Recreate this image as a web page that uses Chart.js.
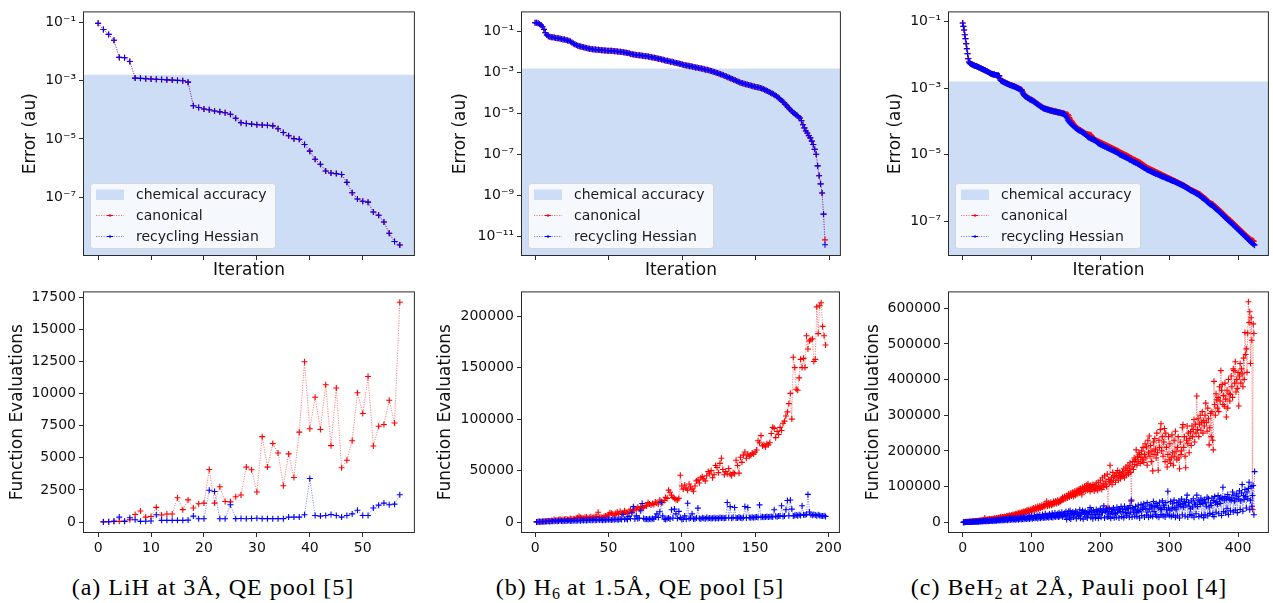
<!DOCTYPE html>
<html lang="en">
<head>
<meta charset="UTF-8">
<title>Error and function evaluations per iteration</title>
<script src="https://cdn.jsdelivr.net/npm/chart.js"></script>
<style>
  body { margin: 0; background: #fff; width: 1273px; height: 603px; overflow: hidden; position: relative; }
  canvas { position: absolute; }
  .cap { position: absolute; top: 575px; font-family: "Liberation Serif", serif; font-size: 24px; line-height: 24px;
         letter-spacing: 1px; color: #000; white-space: nowrap; transform: translateX(-50%); }
  .cap sub { font-size: 16px; vertical-align: -4px; line-height: 0; letter-spacing: 0; }
</style>
</head>
<body>
<canvas id="errA"></canvas>
<canvas id="errB"></canvas>
<canvas id="errC"></canvas>
<canvas id="evalA"></canvas>
<canvas id="evalB"></canvas>
<canvas id="evalC"></canvas>
<div class="cap" style="left:213px">(a) LiH at 3Å, QE pool [5]</div>
<div class="cap" style="left:640px">(b) H<sub>6</sub> at 1.5Å, QE pool [5]</div>
<div class="cap" style="left:1069px">(c) BeH<sub>2</sub> at 2Å, Pauli pool [4]</div>
<script>
// ---- data ----
// error curves: log10(error in au), iteration 0..N
const errA = [-1.03,-1.24,-1.41,-1.61,-2.20,-2.21,-2.34,-2.91,-2.92,-2.93,
  -2.94,-2.95,-2.96,-2.97,-2.98,-2.99,-3.00,-3.05,-3.86,-3.92,
  -3.97,-4.00,-4.04,-4.07,-4.10,-4.15,-4.29,-4.44,-4.47,-4.49,
  -4.51,-4.52,-4.53,-4.55,-4.65,-4.78,-4.89,-4.99,-5.01,-5.19,
  -5.42,-5.70,-5.87,-6.10,-6.17,-6.19,-6.22,-6.49,-6.85,-7.06,
  -7.14,-7.17,-7.51,-7.62,-7.85,-8.24,-8.52,-8.64];

const errBShared = [-0.55,-0.56,-0.58,-0.62,-0.67,-0.75,-0.88,-1.04,-1.15,-1.21,
  -1.24,-1.26,-1.27,-1.28,-1.30,-1.31,-1.32,-1.34,-1.35,-1.37,
  -1.38,-1.40,-1.42,-1.44,-1.47,-1.52,-1.57,-1.61,-1.65,-1.68,
  -1.70,-1.72,-1.74,-1.76,-1.78,-1.79,-1.81,-1.83,-1.84,-1.85,
  -1.86,-1.87,-1.88,-1.88,-1.89,-1.90,-1.90,-1.91,-1.91,-1.92,
  -1.92,-1.93,-1.93,-1.94,-1.95,-1.95,-1.96,-1.97,-1.98,-1.99,
  -2.00,-2.01,-2.02,-2.03,-2.05,-2.08,-2.10,-2.11,-2.12,-2.13,
  -2.14,-2.15,-2.16,-2.17,-2.18,-2.19,-2.20,-2.21,-2.23,-2.24,
  -2.25,-2.27,-2.28,-2.30,-2.32,-2.33,-2.35,-2.37,-2.39,-2.41,
  -2.42,-2.44,-2.46,-2.47,-2.49,-2.51,-2.52,-2.54,-2.56,-2.58,
  -2.60,-2.62,-2.63,-2.65,-2.66,-2.68,-2.69,-2.71,-2.72,-2.74,
  -2.75,-2.77,-2.78,-2.80,-2.81,-2.83,-2.85,-2.86,-2.88,-2.90,
  -2.92,-2.95,-2.97,-3.00,-3.02,-3.05,-3.07,-3.10,-3.13,-3.16,
  -3.19,-3.22,-3.25,-3.28,-3.31,-3.34,-3.37,-3.40,-3.44,-3.47,
  -3.50,-3.52,-3.54,-3.56,-3.58,-3.60,-3.62,-3.64,-3.66,-3.68,
  -3.70,-3.71,-3.73,-3.75,-3.77,-3.80,-3.83,-3.87,-3.90,-3.94,
  -3.98,-4.02,-4.06,-4.10,-4.15,-4.20,-4.26,-4.33,-4.40,-4.46,
  -4.55,-4.62,-4.70,-4.78,-4.86,-4.92,-4.98,-5.05,-5.10,-5.15,
  -5.22,-5.35,-5.55,-5.70,-5.85,-5.95,-6.08,-6.19,-6.35,-6.51,
  -6.75,-6.99,-7.56,-8.04,-8.44,-8.89,-9.92];
const errBCanonLast = -11.18;
const errBRecycLast = -11.42;

const errCCanon = [-1.04,-1.14,-1.25,-1.39,-1.51,-1.66,-1.81,-1.96,-2.11,-2.21,
  -2.24,-2.26,-2.27,-2.28,-2.29,-2.30,-2.31,-2.32,-2.33,-2.33,
  -2.34,-2.35,-2.36,-2.37,-2.38,-2.39,-2.40,-2.41,-2.42,-2.43,
  -2.44,-2.45,-2.46,-2.47,-2.48,-2.49,-2.50,-2.51,-2.52,-2.54,
  -2.55,-2.56,-2.57,-2.58,-2.58,-2.59,-2.59,-2.60,-2.60,-2.61,
  -2.61,-2.62,-2.62,-2.63,-2.70,-2.75,-2.77,-2.78,-2.79,-2.80,
  -2.81,-2.82,-2.83,-2.84,-2.85,-2.86,-2.87,-2.88,-2.89,-2.90,
  -2.90,-2.91,-2.92,-2.93,-2.93,-2.94,-2.95,-2.96,-2.97,-2.98,
  -2.99,-3.00,-3.01,-3.02,-3.03,-3.04,-3.05,-3.10,-3.15,-3.19,
  -3.22,-3.24,-3.25,-3.26,-3.28,-3.29,-3.30,-3.32,-3.33,-3.34,
  -3.35,-3.36,-3.37,-3.39,-3.40,-3.42,-3.43,-3.45,-3.46,-3.48,
  -3.49,-3.51,-3.52,-3.54,-3.55,-3.56,-3.58,-3.59,-3.60,-3.61,
  -3.62,-3.62,-3.63,-3.64,-3.64,-3.65,-3.66,-3.66,-3.67,-3.67,
  -3.68,-3.68,-3.69,-3.69,-3.70,-3.70,-3.71,-3.71,-3.72,-3.72,
  -3.73,-3.73,-3.74,-3.74,-3.75,-3.75,-3.76,-3.76,-3.77,-3.78,
  -3.78,-3.79,-3.79,-3.80,-3.83,-3.88,-3.93,-3.97,-3.99,-4.02,
  -4.05,-4.08,-4.11,-4.14,-4.16,-4.18,-4.20,-4.21,-4.23,-4.24,
  -4.25,-4.26,-4.28,-4.29,-4.30,-4.32,-4.33,-4.34,-4.36,-4.37,
  -4.38,-4.38,-4.39,-4.39,-4.40,-4.40,-4.41,-4.42,-4.45,-4.48,
  -4.51,-4.53,-4.55,-4.56,-4.57,-4.58,-4.59,-4.60,-4.61,-4.62,
  -4.63,-4.64,-4.65,-4.66,-4.67,-4.68,-4.69,-4.70,-4.71,-4.72,
  -4.73,-4.74,-4.75,-4.76,-4.77,-4.78,-4.79,-4.80,-4.81,-4.82,
  -4.83,-4.84,-4.85,-4.86,-4.87,-4.88,-4.89,-4.90,-4.92,-4.93,
  -4.94,-4.95,-4.96,-4.97,-4.98,-4.99,-5.00,-5.01,-5.02,-5.03,
  -5.04,-5.05,-5.07,-5.08,-5.09,-5.10,-5.11,-5.13,-5.14,-5.15,
  -5.16,-5.17,-5.18,-5.19,-5.20,-5.21,-5.22,-5.23,-5.24,-5.26,
  -5.27,-5.29,-5.30,-5.32,-5.33,-5.35,-5.36,-5.38,-5.39,-5.40,
  -5.41,-5.42,-5.43,-5.44,-5.45,-5.46,-5.47,-5.48,-5.49,-5.50,
  -5.51,-5.52,-5.53,-5.54,-5.55,-5.56,-5.57,-5.58,-5.59,-5.60,
  -5.61,-5.62,-5.63,-5.64,-5.65,-5.66,-5.67,-5.68,-5.69,-5.70,
  -5.71,-5.72,-5.73,-5.74,-5.75,-5.76,-5.77,-5.78,-5.79,-5.80,
  -5.81,-5.82,-5.83,-5.84,-5.85,-5.86,-5.87,-5.88,-5.89,-5.90,
  -5.91,-5.92,-5.93,-5.95,-5.96,-5.97,-5.98,-6.00,-6.01,-6.02,
  -6.04,-6.05,-6.06,-6.07,-6.08,-6.09,-6.10,-6.11,-6.12,-6.13,
  -6.14,-6.15,-6.16,-6.17,-6.18,-6.19,-6.21,-6.23,-6.25,-6.27,
  -6.28,-6.30,-6.31,-6.33,-6.35,-6.37,-6.39,-6.41,-6.43,-6.45,
  -6.46,-6.47,-6.48,-6.49,-6.50,-6.52,-6.54,-6.56,-6.58,-6.60,
  -6.61,-6.63,-6.65,-6.67,-6.69,-6.71,-6.73,-6.75,-6.77,-6.79,
  -6.81,-6.83,-6.85,-6.87,-6.89,-6.91,-6.93,-6.95,-6.96,-6.98,
  -7.00,-7.02,-7.04,-7.06,-7.08,-7.10,-7.12,-7.14,-7.16,-7.18,
  -7.20,-7.22,-7.24,-7.26,-7.28,-7.30,-7.32,-7.34,-7.36,-7.38,
  -7.40,-7.42,-7.44,-7.46,-7.48,-7.50,-7.51,-7.53,-7.55,-7.56,
  -7.57,-7.58,-7.59,-7.60];

const errCRecyc = [-1.04,-1.14,-1.25,-1.39,-1.51,-1.66,-1.81,-1.96,-2.11,-2.21,
  -2.24,-2.26,-2.27,-2.28,-2.29,-2.30,-2.31,-2.32,-2.33,-2.33,
  -2.34,-2.35,-2.36,-2.37,-2.38,-2.39,-2.40,-2.41,-2.42,-2.43,
  -2.44,-2.45,-2.46,-2.47,-2.48,-2.49,-2.50,-2.51,-2.52,-2.54,
  -2.55,-2.56,-2.57,-2.58,-2.58,-2.59,-2.59,-2.60,-2.60,-2.61,
  -2.61,-2.62,-2.62,-2.63,-2.72,-2.76,-2.78,-2.79,-2.80,-2.81,
  -2.82,-2.83,-2.84,-2.85,-2.86,-2.87,-2.88,-2.89,-2.90,-2.91,
  -2.91,-2.92,-2.93,-2.94,-2.94,-2.95,-2.96,-2.97,-2.98,-2.99,
  -3.00,-3.01,-3.02,-3.03,-3.04,-3.05,-3.08,-3.14,-3.18,-3.21,
  -3.23,-3.25,-3.26,-3.27,-3.29,-3.30,-3.31,-3.33,-3.34,-3.35,
  -3.36,-3.37,-3.38,-3.40,-3.41,-3.43,-3.44,-3.46,-3.47,-3.49,
  -3.50,-3.52,-3.53,-3.55,-3.56,-3.57,-3.59,-3.60,-3.61,-3.62,
  -3.62,-3.63,-3.63,-3.64,-3.65,-3.65,-3.66,-3.67,-3.67,-3.68,
  -3.68,-3.69,-3.69,-3.70,-3.70,-3.71,-3.71,-3.72,-3.72,-3.73,
  -3.73,-3.74,-3.74,-3.75,-3.75,-3.76,-3.76,-3.77,-3.78,-3.80,
  -3.84,-3.88,-3.92,-3.96,-3.99,-4.02,-4.04,-4.06,-4.08,-4.10,
  -4.12,-4.14,-4.16,-4.18,-4.20,-4.22,-4.23,-4.25,-4.26,-4.27,
  -4.28,-4.29,-4.30,-4.32,-4.33,-4.34,-4.36,-4.37,-4.38,-4.40,
  -4.42,-4.45,-4.47,-4.48,-4.49,-4.50,-4.51,-4.52,-4.53,-4.54,
  -4.55,-4.56,-4.57,-4.58,-4.60,-4.62,-4.64,-4.66,-4.67,-4.68,
  -4.69,-4.70,-4.71,-4.72,-4.73,-4.74,-4.75,-4.76,-4.77,-4.78,
  -4.79,-4.80,-4.81,-4.82,-4.83,-4.84,-4.85,-4.86,-4.87,-4.88,
  -4.89,-4.90,-4.91,-4.92,-4.93,-4.94,-4.96,-4.97,-4.99,-5.00,
  -5.01,-5.02,-5.03,-5.04,-5.05,-5.06,-5.07,-5.08,-5.09,-5.10,
  -5.11,-5.12,-5.14,-5.15,-5.16,-5.17,-5.19,-5.20,-5.21,-5.22,
  -5.23,-5.24,-5.25,-5.26,-5.27,-5.28,-5.30,-5.31,-5.32,-5.34,
  -5.35,-5.36,-5.37,-5.39,-5.40,-5.41,-5.42,-5.44,-5.45,-5.46,
  -5.47,-5.48,-5.49,-5.50,-5.51,-5.52,-5.53,-5.54,-5.55,-5.56,
  -5.57,-5.58,-5.58,-5.59,-5.60,-5.61,-5.62,-5.63,-5.64,-5.65,
  -5.66,-5.66,-5.67,-5.68,-5.69,-5.70,-5.71,-5.72,-5.72,-5.73,
  -5.74,-5.75,-5.76,-5.77,-5.78,-5.79,-5.79,-5.80,-5.81,-5.82,
  -5.83,-5.84,-5.85,-5.86,-5.87,-5.88,-5.89,-5.90,-5.91,-5.92,
  -5.93,-5.94,-5.95,-5.97,-5.98,-5.99,-6.00,-6.02,-6.03,-6.04,
  -6.06,-6.07,-6.08,-6.09,-6.10,-6.11,-6.12,-6.13,-6.15,-6.16,
  -6.17,-6.18,-6.20,-6.21,-6.22,-6.24,-6.26,-6.28,-6.30,-6.31,
  -6.32,-6.34,-6.35,-6.37,-6.39,-6.41,-6.43,-6.45,-6.47,-6.49,
  -6.50,-6.51,-6.52,-6.53,-6.55,-6.57,-6.59,-6.61,-6.63,-6.65,
  -6.66,-6.68,-6.70,-6.72,-6.74,-6.76,-6.78,-6.80,-6.82,-6.84,
  -6.86,-6.88,-6.90,-6.92,-6.94,-6.96,-6.98,-7.00,-7.01,-7.03,
  -7.05,-7.07,-7.09,-7.11,-7.13,-7.15,-7.17,-7.19,-7.21,-7.23,
  -7.25,-7.27,-7.29,-7.31,-7.33,-7.35,-7.37,-7.39,-7.41,-7.43,
  -7.45,-7.47,-7.49,-7.51,-7.53,-7.55,-7.57,-7.59,-7.61,-7.63,
  -7.65,-7.67,-7.68,-7.70,-7.72];

// function evaluations, iteration 1..N
const evalACanon = [10,20,50,50,60,180,580,860,380,430,
  1140,550,620,620,1890,960,1720,1090,1420,1470,
  4090,1470,2740,1590,1570,1970,2100,4270,4070,2330,
  6640,4270,6110,5370,2820,5300,3460,6990,12470,7250,
  9700,7200,10680,5940,10430,4220,4800,6320,10050,8440,
  11320,5910,7450,7580,9470,7700,17100];
const evalARecyc = [20,20,50,380,50,330,180,50,60,80,
  560,130,130,130,130,130,150,460,250,250,
  2470,2370,250,250,1340,260,270,250,270,290,
  260,260,260,260,260,380,380,380,560,3380,
  510,460,510,580,510,380,510,630,910,510,
  510,1090,1310,1470,1340,1390,2120];

// in thousands
const evalBCanonK = [0.2,0.3,0.5,0.4,0.6,0.8,0.7,1.0,1.2,0.9,
  1.5,1.3,2.5,1.6,1.8,2.2,2.8,1.9,2.4,2.6,
  3.0,2.5,2.2,3.5,2.8,3.2,3.0,3.8,4.2,5.5,
  4.5,4.0,3.6,4.8,5.0,3.8,4.5,5.2,4.1,4.8,
  5.2,5.5,9.5,4.5,5.0,4.2,5.5,6.0,5.8,7.0,
  9.0,8.5,7.8,6.5,8.5,9.8,7.5,10.5,8.0,9.0,
  11,9.5,8.5,10.5,12,9.5,11.5,13,12,14.5,
  12.5,15,13.5,14,16,15.5,19,17.5,16.5,18,
  17,19.5,18.5,17.5,21.5,20,19,21,24,23,
  31,29,26,24,23,22,21.5,23,45.5,35,
  32,36,33,31,37,34,32,30,35,40,
  41,38,43,44,42,40,45,49,47,50,
  43,46,55,53,48,57,62,51,46,49,
  47,52,46.5,45,48,47,60,55,47.5,63,
  58,65,68,62,66,64,65,67,66,68,
  70,79,77,84,74,75,73,76,75,77,
  86,92,91,82,88,85,92,89,96,98,
  103,107,115,125,100,160,150,129,128,140,
  158,150,159,150,181,168,176,177,178,156,
  158,209,183,210,213,190,181,172];
const evalBRecycK = [0.2,0.3,0.4,0.3,0.5,0.4,0.6,0.5,0.7,0.6,
  0.8,0.7,0.9,1.2,0.8,1.0,1.5,1.1,0.9,1.3,
  1.0,1.2,1.5,1.1,1.4,1.3,1.6,1.2,1.5,1.8,
  1.4,1.7,1.5,1.9,1.6,1.8,2.0,1.7,1.9,2.2,
  1.8,2.1,2.4,2.0,2.2,1.9,2.3,2.1,2.5,2.2,
  2.4,2.1,2.6,2.3,2.8,2.5,2.2,3.0,2.6,7.3,
  2.8,3.2,2.6,5.5,3.5,9.0,15.0,3.0,6.0,3.2,
  4.0,11.0,18.0,3.5,2.8,3.0,2.5,3.2,2.8,3.5,
  3.0,5.0,8.0,4.5,10.0,19.0,6.0,3.0,2.5,3.5,
  4.0,3.0,12.0,4.0,12.6,8.0,3.5,10.4,4.5,2.5,
  3.0,6.0,2.8,18.3,3.5,4.0,8.0,3.0,3.2,4.0,
  13.6,3.5,3.0,4.2,3.8,3.2,4.5,3.6,4.0,3.4,
  3.8,4.2,3.5,4.0,3.6,4.5,3.9,4.2,3.7,4.0,
  19.0,4.2,15.2,3.8,4.5,14.2,4.0,3.9,4.6,4.2,
  3.8,4.4,15.2,4.0,14.2,4.5,4.1,4.8,4.3,4.6,
  5.0,4.4,16.7,4.8,5.2,4.6,5.0,5.5,4.9,5.2,
  5.4,5.0,12.0,5.6,5.2,5.8,6.0,15.8,5.5,5.9,
  12.0,20.9,6.2,21.5,12.6,6.0,6.4,6.8,6.2,7.0,
  6.5,15.8,7.2,6.8,7.5,26.9,9.8,7.0,6.6,7.4,
  6.8,6.2,7.0,6.4,6.0,5.8,6.2,5.5];

const evalCCanonK = [0.3,0.5,0.8,1.0,1.2,0.9,1.5,1.3,1.8,2.0,
  1.6,2.2,2.5,2.0,2.8,3.0,2.4,3.2,3.5,2.9,
  3.8,4.2,3.5,4.5,5.0,4.0,5.2,4.6,6.0,5.5,
  7.0,12,6.5,7.5,6.0,8.0,7.2,8.5,9.0,7.5,
  8.8,9.5,8.0,10,9.2,11,10.5,9.0,12,11.5,
  10,13,12.5,11,14.6,13.5,12,15,14,13,
  16,15,14.5,17.5,16,18,15.5,19,17,18.5,
  20,19,21.5,18,22,20.5,23,21,24.5,22,
  25,23.5,27,24,26,28.5,25.5,30,27,29,
  31,28,33,30,35,32,29,34,36,31,
  38,33,40,36,35,42,37,39,44,38,
  41,46,40,43,48,42,45,50,44,47,
  52,59,45,49,54,47,51,56,48,53,
  50,58,52,55,60,53,57,62,55,57,
  60,58,65,61,70,63,67,72,66,69,
  75,68,73,80,71,76,82,74,78,85,
  72,79,88,76,83,90,80,86,93,82,
  95,85,77,98,88,92,101,87,96,104,
  90,108,95,100,86,103,97,92,106,99,
  88,104,94,110,96,90,112,100,95,118,
  102,92,125,108,98,130,105,115,100,135,
  41,120,110,160,115,125,105,140,118,130,
  130,112,138,125,145,118,132,140,122,135,
  128,141,130,150,125,138,155,132,145,160,
  135,150,167,140,59,155,170,148,180,162,
  175,203,160,185,170,195,190,165,182,200,
  175,210,168,190,220,180,211,160,230,195,
  242,185,215,170,200,144,225,190,235,205,
  180,250,195,146,230,210,260,276,200,240,
  185,225,263,170,250,210,155,190,240,175,
  220,165,181,245,195,160,230,185,255,199,
  175,210,240,180,150,225,190,200,265,274,
  210,240,185,153,230,270,220,250,195,235,
  254,215,270,240,260,288,225,275,250,354,
  260,290,240,275,300,258,280,310,250,285,
  270,300,334,280,255,320,290,217,265,305,
  240,310,230,203,395,330,300,360,343,320,
  350,310,380,340,425,370,386,330,355,325,
  390,345,295,370,320,400,360,340,358,410,
  380,350,430,425,390,450,365,400,375,420,
  326,410,445,390,430,416,380,460,400,532,
  470,486,420,530,618,560,590,445,573,510,
  36,556,529];
const evalCRecycK = [0.2,0.4,0.3,0.6,0.5,0.8,0.6,1.0,0.7,1.2,
  0.9,1.4,1.0,1.6,1.2,1.8,1.3,2.0,1.5,2.2,
  1.6,2.5,1.8,2.8,2.0,3.0,2.2,3.3,2.4,3.5,
  2.6,3.8,2.8,4.0,3.0,4.2,3.2,4.5,3.4,4.8,
  3.5,5.0,3.8,5.5,4.0,5.2,4.2,6.0,4.5,6.5,
  4.8,7.0,5.0,6.2,5.5,8.0,5.2,7.5,6.0,9.0,
  5.5,8.5,6.2,10,6.0,9.5,7.0,11,6.5,10.5,
  7.5,12,6.8,9.0,8.0,13,7.2,10,8.5,12.5,
  7.0,11,9.0,14,8.0,12,9.5,15,8.5,13,
  10,16,9.0,12.5,10.5,17,9.5,14,11,18,
  10,13.5,12,19,11,15,12.5,20,10.5,16,
  13,21,11.5,15.5,14,22,12,17,13.5,24,
  12.5,18,14.5,20,13,23,15,19,14,25,
  13.5,20,16,26,14.5,21,17,24,15,27,
  16,22,18,28,15.5,23,19,25,17,30,
  8,24,20,31,12,32,9,25,21,29,
  14,26,22,31,10,28,23,16,20,35,
  11,27,24,33,9,29,22,31,15,26,
  12,30,23,28,41,14,32,21,10,34,
  22,29,13,36,23,30,11,33,21,38,
  14,31,27,35,46,12,32,28,37,15,
  30,16,39,24,11,29,36,23,40,13,
  34,25,14,42,28,37,12,35,30,44,
  16,38,29,13,45,27,36,18,40,25,
  39,14,47,28,62,15,41,29,37,17,
  44,27,16,33,48,30,12,35,50,19,
  40,36,52,15,45,38,20,55,29,14,
  37,49,18,46,40,16,58,30,44,21,
  53,17,47,41,14,56,38,22,36,60,
  18,48,42,15,55,35,23,87,40,19,
  34,58,16,38,52,20,62,41,14,35,
  55,18,46,60,12,50,44,65,21,53,
  42,58,17,48,63,76,15,55,45,22,
  38,60,19,43,66,14,54,49,24,76,
  44,62,16,57,50,68,20,60,53,13,
  64,21,56,45,70,18,66,43,25,54,
  47,68,22,61,16,72,55,28,58,50,
  75,24,65,53,70,19,67,98,30,62,
  72,26,66,38,78,22,70,64,32,61,
  68,85,29,76,59,34,66,80,27,73,
  65,88,36,60,82,106,31,75,64,92,
  72,40,85,66,95,112,35,62,100,45,
  75,103,21,142];

// chemical accuracy threshold (au)
const chemAcc = 1.6e-3;

// axes: ranges and tick marks
const xRangeA = [-2.85, 59.85], xTicksA = [0, 10, 20, 30, 40, 50];
const xRangeB = [-9.6, 207.8],  xTicksB = [0, 50, 100, 150, 200];
const xRangeC = [-21.4, 444.8], xTicksC = [0, 100, 200, 300, 400];
const errRangeA = [-9.02, -0.62], errTicksA = [-1, -3, -5, -7];
const errRangeB = [-11.97, 0.0],  errTicksB = [-1, -3, -5, -7, -9, -11];
const errRangeC = [-8.04, -0.69], errTicksC = [-1, -3, -5, -7];
const evalRangeA = [-855, 17940], evalTicksA = [0, 2500, 5000, 7500, 10000, 12500, 15000, 17500];
const evalRangeB = [-10600, 224000], evalTicksB = [0, 50000, 100000, 150000, 200000];
const evalRangeC = [-30000, 647000], evalTicksC = [0, 100000, 200000, 300000, 400000, 500000, 600000];

// ---- drawing ----
const FONT = '"DejaVu Sans", sans-serif';
const RED = '#ff0000', BLUE = '#0000ff';
const RED_LINE = 'rgba(255,0,0,0.55)', BLUE_LINE = 'rgba(0,0,255,0.5)';
const BAND = 'rgb(206,221,246)';

Chart.defaults.font.family = FONT;
Chart.defaults.animation = false;

const SUP = '⁻⁰¹²³⁴⁵⁶⁷⁸⁹';
function pow10Label(e) {
  return '10' + String(e).replace(/[-0-9]/g, c => SUP['-0123456789'.indexOf(c)]);
}

function pointsFrom(vals, first, toY) {
  return vals.map((v, i) => ({ x: first + i, y: toY(v) }));
}

function series(label, data, mark, line) {
  return {
    label, data, showLine: true, tension: 0, fill: false,
    borderColor: line, borderWidth: 0.9, borderDash: [1.2, 1.3],
    pointStyle: 'cross', pointRadius: 3, pointBorderWidth: 1.1,
    pointBorderColor: mark, pointBackgroundColor: mark, pointHoverRadius: 3
  };
}

const frame = {
  id: 'frame',
  afterDraw(chart) {
    const { ctx, chartArea: a } = chart;
    ctx.save();
    ctx.strokeStyle = '#2b2b2b';
    ctx.lineWidth = 1;
    ctx.strokeRect(a.left + 0.5, a.top + 0.5, a.right - a.left - 1, a.bottom - a.top - 1);
    ctx.restore();
  }
};

const errLegend = {
  id: 'errLegend',
  afterDatasetsDraw(chart) {
    const { ctx, chartArea: a } = chart;
    const x = a.left + 7, y = a.bottom - 73, w = 185, h = 65;
    ctx.save();
    ctx.beginPath();
    ctx.roundRect(x + 0.5, y + 0.5, w, h, 3);
    ctx.fillStyle = 'rgba(255,255,255,0.8)';
    ctx.fill();
    ctx.strokeStyle = '#d6d6d6';
    ctx.lineWidth = 1;
    ctx.stroke();
    const rows = [y + 11.5, y + 32.5, y + 53.5];
    ctx.fillStyle = BAND;
    ctx.fillRect(x + 6, rows[0] - 5, 28, 10.5);
    [[RED, RED_LINE], [BLUE, BLUE_LINE]].forEach(([mark, line], k) => {
      const ry = rows[k + 1];
      ctx.strokeStyle = line;
      ctx.lineWidth = 1;
      ctx.setLineDash([1.2, 1.3]);
      ctx.beginPath(); ctx.moveTo(x + 6, ry); ctx.lineTo(x + 34, ry); ctx.stroke();
      ctx.setLineDash([]);
      ctx.strokeStyle = mark;
      ctx.lineWidth = 1.1;
      ctx.beginPath();
      ctx.moveTo(x + 17, ry); ctx.lineTo(x + 23, ry);
      ctx.moveTo(x + 20, ry - 1.5); ctx.lineTo(x + 20, ry + 1.5);
      ctx.stroke();
    });
    ctx.fillStyle = '#1a1a1a';
    ctx.font = '14px ' + FONT;
    ctx.textBaseline = 'middle';
    ['chemical accuracy', 'canonical', 'recycling Hessian'].forEach((t, k) => ctx.fillText(t, x + 46, rows[k] + 0.5));
    ctx.restore();
  }
};

const TOP = { T: 8, B: 256, pt: 8, H: 25 };
const BOT = { T: 286, B: 533, pt: 6, H: 28 };

function tickGrid() {
  return { display: true, drawOnChartArea: false, drawTicks: true, tickLength: 4, color: '#2b2b2b', lineWidth: 1 };
}

function panel(id, row, L, R, W, xRange, xTicks, xLabels, yAxis, datasets, plugins) {
  const cv = document.getElementById(id);
  const width = W + (R - L) + 1, height = row.pt + (row.B - row.T) + row.H;
  cv.width = width; cv.height = height;
  cv.style.left = (L - W) + 'px'; cv.style.top = (row.T - row.pt) + 'px';
  cv.style.width = width + 'px'; cv.style.height = height + 'px';
  yAxis.afterFit = s => { s.width = W; };
  new Chart(cv, {
    type: 'line',
    data: { datasets },
    options: {
      responsive: false, maintainAspectRatio: false, animation: false, events: [],
      layout: { padding: { left: 0, right: 1, top: row.pt, bottom: 0 } },
      plugins: { legend: { display: false }, tooltip: { enabled: false } },
      scales: {
        x: {
          type: 'linear', min: xRange[0], max: xRange[1],
          afterBuildTicks: s => { s.ticks = xTicks.map(v => ({ value: v })); },
          afterFit: s => { s.height = row.H; },
          grid: tickGrid(), border: { display: false },
          ticks: { autoSkip: false, maxRotation: 0, padding: 3, color: '#111', font: { size: 14 },
                   callback: v => xLabels ? String(v) : '' },
          title: xLabels ? { display: false }
                         : { display: true, text: 'Iteration', padding: 0, color: '#111', font: { size: 17 } }
        },
        y: yAxis
      }
    },
    plugins
  });
}

function errAxis(range, ticks) {
  return {
    type: 'logarithmic', min: Math.pow(10, range[0]), max: Math.pow(10, range[1]),
    afterBuildTicks: s => { s.ticks = ticks.map(e => ({ value: Math.pow(10, e) })); },
    grid: tickGrid(), border: { display: false },
    ticks: { autoSkip: false, padding: 3, color: '#111', font: { size: 14 },
             callback: v => pow10Label(Math.round(Math.log10(v))) },
    title: { display: true, text: 'Error (au)', padding: 0, color: '#111', font: { size: 17 } }
  };
}

function evalAxis(range, ticks) {
  return {
    type: 'linear', min: range[0], max: range[1],
    afterBuildTicks: s => { s.ticks = ticks.map(v => ({ value: v })); },
    grid: tickGrid(), border: { display: false },
    ticks: { autoSkip: false, padding: 3, color: '#111', font: { size: 14 }, callback: v => String(v) },
    title: { display: true, text: 'Function Evaluations', padding: 0, color: '#111', font: { size: 17 } }
  };
}

function bandSet(xRange) {
  return { label: 'chemical accuracy', data: [{ x: xRange[0], y: chemAcc }, { x: xRange[1], y: chemAcc }],
           borderWidth: 0, pointRadius: 0, fill: 'start', backgroundColor: BAND, showLine: true };
}

const fromLog = v => Math.pow(10, v);   // values stored as log10
const same = v => v;
const fromK = v => v * 1000;            // values stored in thousands

// top row: error
panel('errA', TOP, 83, 418, 63, xRangeA, xTicksA, false, errAxis(errRangeA, errTicksA), [
  series('recycling Hessian', pointsFrom(errA, 0, fromLog), BLUE, BLUE_LINE),
  series('canonical', pointsFrom(errA, 0, fromLog), RED, RED_LINE),
  bandSet(xRangeA)
], [errLegend, frame]);

panel('errB', TOP, 521, 844, 71, xRangeB, xTicksB, false, errAxis(errRangeB, errTicksB), [
  series('recycling Hessian', pointsFrom(errBShared.concat([errBRecycLast]), 0, fromLog), BLUE, BLUE_LINE),
  series('canonical', pointsFrom(errBShared.concat([errBCanonLast]), 0, fromLog), RED, RED_LINE),
  bandSet(xRangeB)
], [errLegend, frame]);

panel('errC', TOP, 948, 1272, 63, xRangeC, xTicksC, false, errAxis(errRangeC, errTicksC), [
  series('recycling Hessian', pointsFrom(errCRecyc, 0, fromLog), BLUE, BLUE_LINE),
  series('canonical', pointsFrom(errCCanon, 0, fromLog), RED, RED_LINE),
  bandSet(xRangeC)
], [errLegend, frame]);

// bottom row: function evaluations
panel('evalA', BOT, 83, 418, 76, xRangeA, xTicksA, true, evalAxis(evalRangeA, evalTicksA), [
  series('recycling Hessian', pointsFrom(evalARecyc, 1, same), BLUE, BLUE_LINE),
  series('canonical', pointsFrom(evalACanon, 1, same), RED, RED_LINE)
], [frame]);

panel('evalB', BOT, 521, 844, 86, xRangeB, xTicksB, true, evalAxis(evalRangeB, evalTicksB), [
  series('recycling Hessian', pointsFrom(evalBRecycK, 1, fromK), BLUE, BLUE_LINE),
  series('canonical', pointsFrom(evalBCanonK, 1, fromK), RED, RED_LINE)
], [frame]);

panel('evalC', BOT, 948, 1272, 85, xRangeC, xTicksC, true, evalAxis(evalRangeC, evalTicksC), [
  series('recycling Hessian', pointsFrom(evalCRecycK, 1, fromK), BLUE, BLUE_LINE),
  series('canonical', pointsFrom(evalCCanonK, 1, fromK), RED, RED_LINE)
], [frame]);
</script>
</body>
</html>
